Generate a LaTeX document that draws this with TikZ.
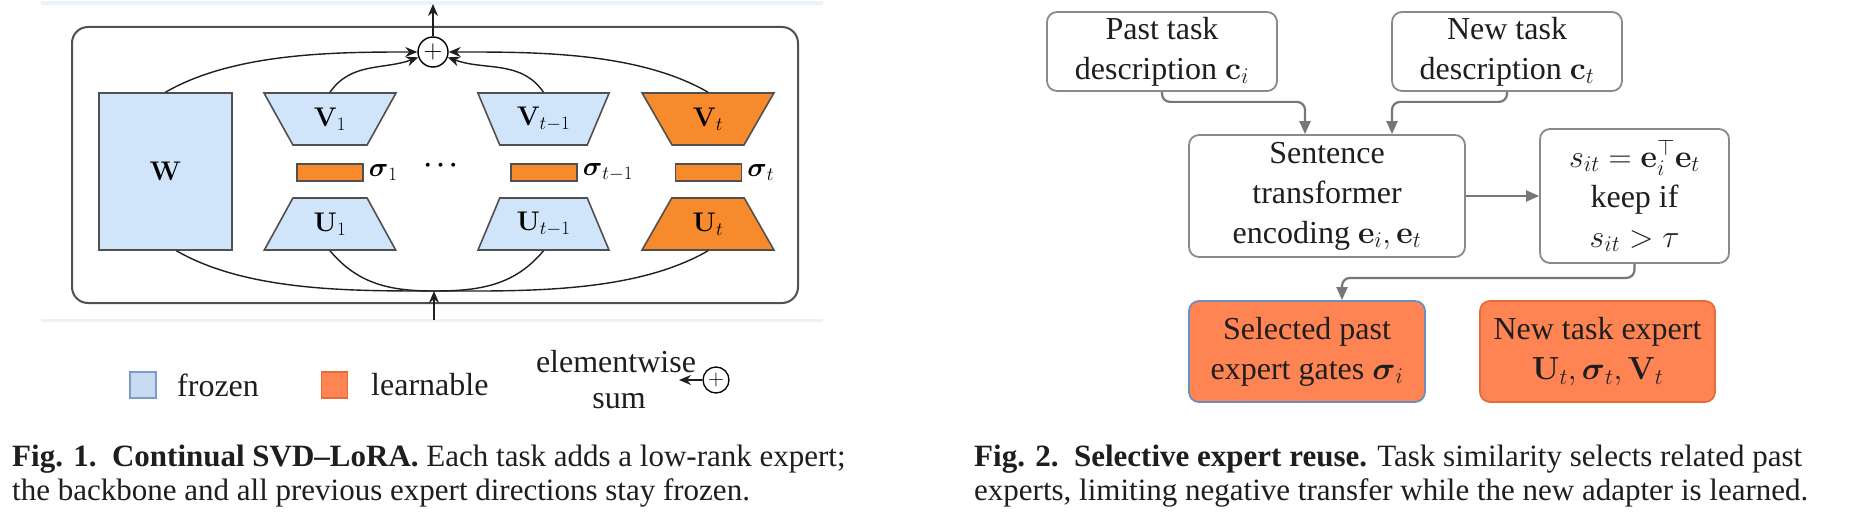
\RequirePackage{fix-cm}
\documentclass[tikz,border=0pt]{standalone}
\usepackage{amsmath}
\usepackage[no-math]{fontspec}
\setmainfont{Liberation Serif}
\usetikzlibrary{arrows.meta,shapes.geometric}
\definecolor{lbfill}{HTML}{D0E5FA}
\definecolor{lorange}{HTML}{F78A2D}
\definecolor{coral}{HTML}{FF8454}
\definecolor{lgray}{HTML}{505050}
\definecolor{rgray}{HTML}{8A8A8A}
\definecolor{agray}{HTML}{777777}
\definecolor{bandc}{HTML}{EAF3FA}
\definecolor{legfill}{HTML}{C6DBF0}
\definecolor{legblue}{HTML}{7B9CC6}
\definecolor{selblue}{HTML}{6C8EBF}
\definecolor{newor}{HTML}{E46C3C}
\definecolor{txt}{HTML}{1E1E1E}
\tikzset{
  frame/.style={draw=lgray, line width=2pt, rounded corners=16pt, minimum width=726pt, minimum height=276pt, inner sep=0pt},
  sumc/.style={circle, draw=black, line width=1.4pt, fill=white, minimum size=30pt, inner sep=0pt},
  shp/.style={draw=lgray, line width=1.6pt, inner sep=0pt, font=\fontsize{27pt}{30pt}\selectfont},
  wbox/.style={shp, rectangle, fill=lbfill, minimum width=133pt, minimum height=157pt},
  trapV/.style={shp, trapezium, trapezium stretches=true, trapezium angle=61, minimum width=132pt, minimum height=52pt, shape border rotate=180},
  trapU/.style={shp, trapezium, trapezium stretches=true, trapezium angle=61, minimum width=132pt, minimum height=52pt},
  sigbox/.style={rectangle, draw=lgray, line width=1.4pt, fill=lorange, minimum width=66pt, minimum height=17pt, inner sep=0pt},
  siglab/.style={anchor=west, inner sep=0pt, font=\fontsize{27pt}{30pt}\selectfont},
  conn/.style={draw=black!88, line width=1.4pt},
  carrow/.style={conn, -{Stealth[length=12pt,width=10pt]}},
  legtxt/.style={inner sep=0pt, text=txt, font=\fontsize{32pt}{38pt}\selectfont},
  rbox/.style={rectangle, rounded corners=10pt, draw=rgray, line width=1.8pt, fill=white, align=center, inner sep=0pt, text=txt, font=\fontsize{32pt}{40pt}\selectfont},
  garrow/.style={draw=agray, line width=2.2pt, rounded corners=8pt, -{Triangle[length=13pt,width=11pt]}},
  captxt/.style={anchor=base west, inner sep=0pt, text=txt, font=\fontsize{31pt}{34pt}\selectfont}
}
\begin{document}
\begin{tikzpicture}[x=1pt,y=-1pt]
\useasboundingbox (0,0) rectangle (1849,516);
\fill[white] (0,0) rectangle (1849,516);
% faint bands
\fill[bandc] (41,1.5) rectangle (823,5);
\fill[bandc] (41,318.5) rectangle (823,322);
% ---------------- Fig 1 ----------------
\node[frame] (frame) at (435,165) {};
\node[sumc, font=\fontsize{26pt}{26pt}\selectfont] (sum) at (433,52) {$+$};
\coordinate (out) at (433,4);
\draw[carrow] (sum) -- (out);
\node[wbox] (W) at (165.5,171.5) {$\mathbf{W}$};
\node[trapV, fill=lbfill] (V1) at (330,119) {$\mathbf{V}_1$};
\node[trapU, fill=lbfill] (U1) at (330,224) {$\mathbf{U}_1$};
\node[sigbox] (s1) at (330,172.5) {};
\node[siglab] (s1l) at ([xshift=5pt]s1.east) {$\boldsymbol{\sigma}_1$};
\node[inner sep=0pt, font=\fontsize{25pt}{30pt}\selectfont] (dots) at (443,166) {$\boldsymbol{\cdots}$};
\node[trapV, fill=lbfill] (Vm) at (543.5,119) {$\mathbf{V}_{t-1}$};
\node[trapU, fill=lbfill] (Um) at (543.5,224) {$\mathbf{U}_{t-1}$};
\node[sigbox] (sm) at (544,172.5) {};
\node[siglab] (sml) at ([xshift=5pt]sm.east) {$\boldsymbol{\sigma}_{t-1}$};
\node[trapV, fill=lorange] (Vt) at (708,119) {$\mathbf{V}_t$};
\node[trapU, fill=lorange] (Ut) at (708,224) {$\mathbf{U}_t$};
\node[sigbox] (st) at (708.5,172.5) {};
\node[siglab] (stl) at ([xshift=5pt]st.east) {$\boldsymbol{\sigma}_t$};
% top connectors
\draw[carrow] (W.north) to[out=30,in=180,looseness=0.8] (sum.west);
\draw[carrow] (V1.north) to[out=55,in=200] (sum.200);
\draw[carrow] (Vm.north) to[out=125,in=-20] (sum.-20);
\draw[carrow] (Vt.north) to[out=150,in=0,looseness=0.8] (sum.east);
% bottom connectors
\coordinate (inj) at (434,291);
\coordinate (inb) at (434,320);
\draw[conn] ([xshift=11pt]W.south) to[out=-30,in=180,looseness=0.8] (inj);
\draw[conn] (U1.south) to[out=-50,in=180] (inj);
\draw[conn] (Um.south) to[out=-130,in=0] (inj);
\draw[conn] (Ut.south) to[out=-150,in=0,looseness=0.8] (inj);
\draw[carrow] (inb) -- (inj);
% legend
\node[rectangle, draw=legblue, line width=1.5pt, fill=legfill, minimum size=26pt, inner sep=0pt] (lgf) at (143,385) {};
\node[legtxt, anchor=west] (lgft) at (177,385) {frozen};
\node[rectangle, draw=newor, line width=1.5pt, fill=coral, minimum size=26pt, inner sep=0pt] (lgl) at (334.5,385) {};
\node[legtxt, anchor=west] (lglt) at (371,385) {learnable};
\node[legtxt] (ew) at (616,362) {elementwise};
\node[legtxt] (esum) at (619,401) {sum};
\node[circle, draw=black, line width=1.3pt, minimum size=26pt, inner sep=0pt, font=\fontsize{22pt}{22pt}\selectfont] (lsum) at (716,380) {$+$};
\coordinate (ltip) at (679,380);
\draw[carrow] (lsum) -- (ltip);
% caption 1
\node[captxt] (c1a) at (12,466) {\textbf{Fig. 1.\enspace Continual SVD--LoRA.} Each task adds a low-rank expert;};
\node[captxt] (c1b) at (12,500) {the backbone and all previous expert directions stay frozen.};
% ---------------- Fig 2 ----------------
\node[rbox, minimum width=230pt, minimum height=79pt] (past) at (1162,51.5) {Past task\\description $\mathbf{c}_i$};
\node[rbox, minimum width=230pt, minimum height=79pt] (new) at (1507,51.5) {New task\\description $\mathbf{c}_t$};
\node[rbox, minimum width=276pt, minimum height=122pt] (sent) at (1327,196) {Sentence\\transformer\\encoding $\mathbf{e}_i, \mathbf{e}_t$};
\node[rbox, minimum width=189pt, minimum height=134pt] (sit) at (1634.5,196) {$s_{it} = \mathbf{e}_i^{\top}\mathbf{e}_t$\\keep if\\$s_{it} > \tau$};
\node[rbox, draw=selblue, fill=coral, minimum width=236pt, minimum height=101pt] (sel) at (1307,351.5) {Selected past\\expert gates $\boldsymbol{\sigma}_i$};
\node[rbox, draw=newor, fill=coral, minimum width=235pt, minimum height=101pt] (nexp) at (1597.5,351.5) {New task expert\\$\mathbf{U}_t\mathbf{,}\,\boldsymbol{\sigma}_t\mathbf{,}\,\mathbf{V}_t$};
\draw[garrow] (past.south) -- ++(0,10) -| ([xshift=-22pt]sent.north);
\draw[garrow] (new.south) -- ++(0,10) -| ([xshift=65pt]sent.north);
\draw[garrow] (sent.east) -- (sit.west);
\draw[garrow] (sit.south) -- ++(0,14) -| ([xshift=35pt]sel.north);
% caption 2
\node[captxt] (c2a) at (974,466) {\textbf{Fig. 2.\enspace Selective expert reuse.} Task similarity selects related past};
\node[captxt] (c2b) at (974,500) {experts, limiting negative transfer while the new adapter is learned.};
\end{tikzpicture}
\end{document}
